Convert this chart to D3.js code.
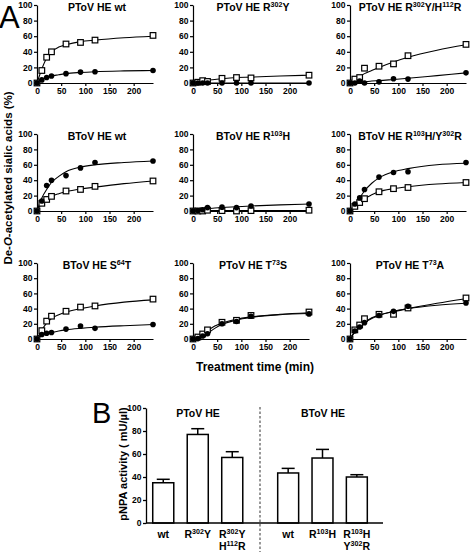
<!DOCTYPE html>
<html><head><meta charset="utf-8">
<script src="https://cdn.jsdelivr.net/npm/d3@7"></script>
<style>
body{margin:0;background:#fff;}
svg{display:block;font-family:"Liberation Sans",Arial,sans-serif;}
</style></head><body>
<svg id="c" width="470" height="552"></svg>
<script>
// ---------- DATA (panel A) ----------
const times = [0, 10, 20, 30, 60, 90, 120, 240];
const fitTimes = [0, 10, 20, 30, 45, 60, 90, 120, 180, 240];
// titles as [text, isSuperscript] segments
const titleSegs = [
  [["PToV HE wt", 0]],
  [["PToV HE R", 0], ["302", 1], ["Y", 0]],
  [["PToV HE R", 0], ["302", 1], ["Y/H", 0], ["112", 1], ["R", 0]],
  [["BToV HE wt", 0]],
  [["BToV HE R", 0], ["103", 1], ["H", 0]],
  [["BToV HE R", 0], ["103", 1], ["H/Y", 0], ["302", 1], ["R", 0]],
  [["BToV HE S", 0], ["64", 1], ["T", 0]],
  [["PToV HE T", 0], ["73", 1], ["S", 0]],
  [["PToV HE T", 0], ["73", 1], ["A", 0]]
];
const openValues = [
  [0, 16, 33, 40, 50, 52, 55, 61],
  [0, 1, 3, 2, 6, 7, 6.5, 10],
  [0, 5, 7, 19, 21.5, 24.5, 35, 49.5],
  [0, 10, 15, 19, 26, 28, 32, 39],
  [0, 0, 0, 1, 0.5, 0, 0.5, 1],
  [0, 6, 11, 16, 25, 29, 30.5, 37],
  [0, 11, 23.5, 30, 36.5, 42, 43.5, 52.5],
  [0, 2.6, 6.6, 12, 22, 24.6, 31, 35.5],
  [0, 12, 18.4, 26.7, 32.5, 32.5, 40.8, 54]
];
const filledValues = [
  [0, 4, 7, 9, 12, 14, 14.5, 16],
  [0, 0, 0, 0, 0, 0, 0, 0],
  [0, 0, 2.5, 0, 1.5, 5.5, 5, 13],
  [0, 13, 33, 40, 46, 56, 63, 65],
  [0, 0.5, 1.7, 4.4, 5, 4.4, 6.5, 9],
  [0, 9, 17, 28, 44, 50, 51, 63],
  [0, 6, 7.5, 8.5, 13, 17, 14, 19],
  [0, 0.5, 4, 7, 20, 23, 30, 33],
  [0, 10.5, 15.8, 21.5, 31, 36.4, 43, 47.4]
];
const openFit = [
  [0, 18, 32, 40, 46, 49, 53, 55, 58, 60],
  [0, 1.5, 2.5, 3.5, 4.5, 5.5, 7, 7.5, 9, 10],
  [0, 4, 8, 12, 16, 20, 27, 33, 42, 49],
  [0, 10, 15, 19, 22.5, 25, 28.5, 31, 35.5, 39],
  [0, 0.3, 0.5, 0.6, 0.6, 0.6, 0.6, 0.6, 0.6, 0.6],
  [0, 5, 11, 16, 21, 25, 29, 31.5, 35, 37],
  [0, 12, 21, 27, 32, 35.5, 40, 43.5, 48.5, 51.5],
  [0, 2.5, 6.5, 11, 17, 21, 26, 29, 32.5, 34.5],
  [0, 10, 17, 22, 28, 31.5, 36, 40, 47, 53]
];
const filledFit = [
  [0, 4, 7, 9, 10.5, 12, 13.5, 14.5, 15.5, 16],
  [0, 0, 0, 0, 0, 0, 0, 0, 0, 0],
  [0, 0.5, 1, 1.5, 2.5, 3, 4.5, 6, 9.5, 13],
  [0, 17, 28, 37, 45, 51, 57, 60, 63, 65],
  [0, 1, 2, 3, 3.8, 4.5, 5.5, 6.5, 8, 9],
  [0, 7, 17, 26, 36, 43, 51, 55, 60, 62],
  [0, 4.5, 7, 8.5, 10.5, 12, 14, 15.5, 17.5, 19],
  [0, 1, 4, 7.5, 14, 19, 25, 28.5, 32, 33.5],
  [0, 9, 16, 21.5, 27, 31, 36.5, 40, 44.5, 47]
];
const yTicks = [0, 20, 40, 60, 80, 100];
const xTicks = [0, 50, 100, 150, 200];

// ---------- DATA (panel B) ----------
const ptovCats = ["wt", "R302Y", "R302Y/H112R"];
const ptovVals = [35, 77, 57];
const ptovErr = [3, 5, 5];
const btovCats = ["wt", "R103H", "R103H/Y302R"];
const btovVals = [43.5, 56.5, 40];
const btovErr = [4, 7.5, 2];
const barLabelSegs = {
  "wt": [[["wt", 0]]],
  "R302Y": [[["R", 0], ["302", 1], ["Y", 0]]],
  "R302Y/H112R": [[["R", 0], ["302", 1], ["Y", 0]], [["H", 0], ["112", 1], ["R", 0]]],
  "R103H": [[["R", 0], ["103", 1], ["H", 0]]],
  "R103H/Y302R": [[["R", 0], ["103", 1], ["H", 0]], [["Y", 0], ["302", 1], ["R", 0]]]
};

// ---------- DRAW ----------
const svg = d3.select("#c");

function segText(g, segs, x, y, size, anchor) {
  const t = g.append("text").attr("x", x).attr("y", y)
    .attr("text-anchor", anchor).attr("font-weight", "bold")
    .attr("font-size", size).attr("fill", "#000");
  let raised = false;
  segs.forEach(([s, sup]) => {
    if (sup) {
      t.append("tspan").attr("dy", -size * 0.38).attr("font-size", size * 0.68).text(s);
      raised = true;
    } else {
      const sp = t.append("tspan").text(s);
      if (raised) { sp.attr("dy", size * 0.38); raised = false; }
    }
  });
  return t;
}

const colX = [37, 193, 350];
const rows = [{ y0: 83, y1: 5 }, { y0: 211, y1: 134 }, { y0: 339, y1: 263 }];
const xSpan = 116;

for (let i = 0; i < 9; i++) {
  const c = i % 3, r = Math.floor(i / 3);
  const x = d3.scaleLinear().domain([0, 240]).range([colX[c], colX[c] + xSpan]);
  const y = d3.scaleLinear().domain([0, 100]).range([rows[r].y0, rows[r].y1]);
  const g = svg.append("g");

  const ya = g.append("g").attr("transform", `translate(${colX[c]},0)`)
    .call(d3.axisLeft(y).tickValues(yTicks).tickSize(3).tickSizeOuter(0).tickPadding(1.5));
  const xa = g.append("g").attr("transform", `translate(0,${rows[r].y0})`)
    .call(d3.axisBottom(x).tickValues(xTicks).tickSize(3).tickSizeOuter(0).tickPadding(2));
  [ya, xa].forEach(a => {
    a.selectAll("path,line").attr("stroke", "#000").attr("stroke-width", 1.2);
    a.selectAll("text").attr("font-size", 8.5).attr("font-weight", "bold").attr("fill", "#000")
      .attr("font-family", "'Liberation Sans',Arial,sans-serif");
  });

  segText(g, titleSegs[i], colX[c] + xSpan / 2 + 2, rows[r].y1 + 6, 10.5, "middle");

  const line = d3.line().x((d, k) => x(fitTimes[k])).y(d => y(d)).curve(d3.curveMonotoneX);
  g.append("path").attr("d", line(openFit[i])).attr("fill", "none").attr("stroke", "#000").attr("stroke-width", 1.1);
  g.append("path").attr("d", line(filledFit[i])).attr("fill", "none").attr("stroke", "#000").attr("stroke-width", 1.1);

  g.selectAll("rect.o").data(openValues[i]).join("rect").attr("class", "o")
    .attr("x", (d, k) => x(times[k]) - 2.8).attr("y", d => y(d) - 2.8)
    .attr("width", 5.6).attr("height", 5.6)
    .attr("fill", "#fff").attr("stroke", "#000").attr("stroke-width", 1.2);
  g.selectAll("circle.f").data(filledValues[i]).join("circle").attr("class", "f")
    .attr("cx", (d, k) => x(times[k])).attr("cy", d => y(d)).attr("r", 2.8).attr("fill", "#000");
}

// "A" label and axis titles
svg.append("text").attr("x", -1).attr("y", 28).attr("font-size", 31).text("A");
svg.append("text").attr("transform", "translate(12,178) rotate(-90)")
  .attr("text-anchor", "middle").attr("font-size", 11.5).attr("font-weight", "bold")
  .call(t => {
    t.append("tspan").text("De-");
    t.append("tspan").attr("font-style", "italic").text("O");
    t.append("tspan").text("-acetylated  sialic acids (%)");
  });
svg.append("text").attr("x", 255).attr("y", 371).attr("text-anchor", "middle")
  .attr("font-size", 12).attr("font-weight", "bold").text("Treatment time (min)");

// ---------- PANEL B ----------
svg.append("text").attr("x", 92).attr("y", 423).attr("font-size", 29).text("B");
const yb = d3.scaleLinear().domain([0, 100]).range([523, 408]);
const xb1 = d3.scaleBand().domain(ptovCats).range([146, 249.5]).paddingInner(0.39).paddingOuter(0.195);
const xb2 = d3.scaleBand().domain(btovCats).range([271, 374]).paddingInner(0.39).paddingOuter(0.195);
const gb = svg.append("g");

gb.append("line").attr("x1", 260).attr("x2", 260).attr("y1", 407).attr("y2", 552)
  .attr("stroke", "#777").attr("stroke-width", 1.5).attr("stroke-dasharray", "2.5,2");

function drawBars(xs, cats, vals, errs) {
  const bw = xs.bandwidth();
  cats.forEach((cat, k) => {
    const cx = xs(cat) + bw / 2;
    const top = yb(vals[k] + errs[k]);
    gb.append("line").attr("x1", cx).attr("x2", cx).attr("y1", yb(vals[k])).attr("y2", top)
      .attr("stroke", "#000").attr("stroke-width", 1.5);
    gb.append("line").attr("x1", cx - 6.5).attr("x2", cx + 6.5).attr("y1", top).attr("y2", top)
      .attr("stroke", "#000").attr("stroke-width", 1.5);
    gb.append("rect").attr("x", xs(cat)).attr("y", yb(vals[k])).attr("width", bw)
      .attr("height", yb(0) - yb(vals[k])).attr("fill", "#fff").attr("stroke", "#000").attr("stroke-width", 1.5);
    const lines = barLabelSegs[cat];
    lines.forEach((segs, li) => segText(gb, segs, cx, 538 + li * 12, 10.5, "middle"));
  });
}
drawBars(xb1, ptovCats, ptovVals, ptovErr);
drawBars(xb2, btovCats, btovVals, btovErr);

const yba = gb.append("g").attr("transform", "translate(146,0)")
  .call(d3.axisLeft(yb).tickValues(yTicks).tickSize(3).tickSizeOuter(0).tickPadding(1.5));
yba.selectAll("path,line").attr("stroke", "#000").attr("stroke-width", 1.3);
yba.selectAll("text").attr("font-size", 8.5).attr("font-weight", "bold").attr("fill", "#000")
  .attr("font-family", "'Liberation Sans',Arial,sans-serif");
gb.append("line").attr("x1", 146).attr("x2", 383).attr("y1", 523).attr("y2", 523)
  .attr("stroke", "#000").attr("stroke-width", 1.3);

gb.append("text").attr("x", 198).attr("y", 417).attr("text-anchor", "middle")
  .attr("font-size", 10.5).attr("font-weight", "bold").text("PToV HE");
gb.append("text").attr("x", 323).attr("y", 417).attr("text-anchor", "middle")
  .attr("font-size", 10.5).attr("font-weight", "bold").text("BToV HE");
gb.append("text").attr("transform", "translate(127,464) rotate(-90)")
  .attr("text-anchor", "middle").attr("font-size", 11).attr("font-weight", "bold")
  .text("pNPA activity ( mU/\u00B5l)");
</script></body></html>
